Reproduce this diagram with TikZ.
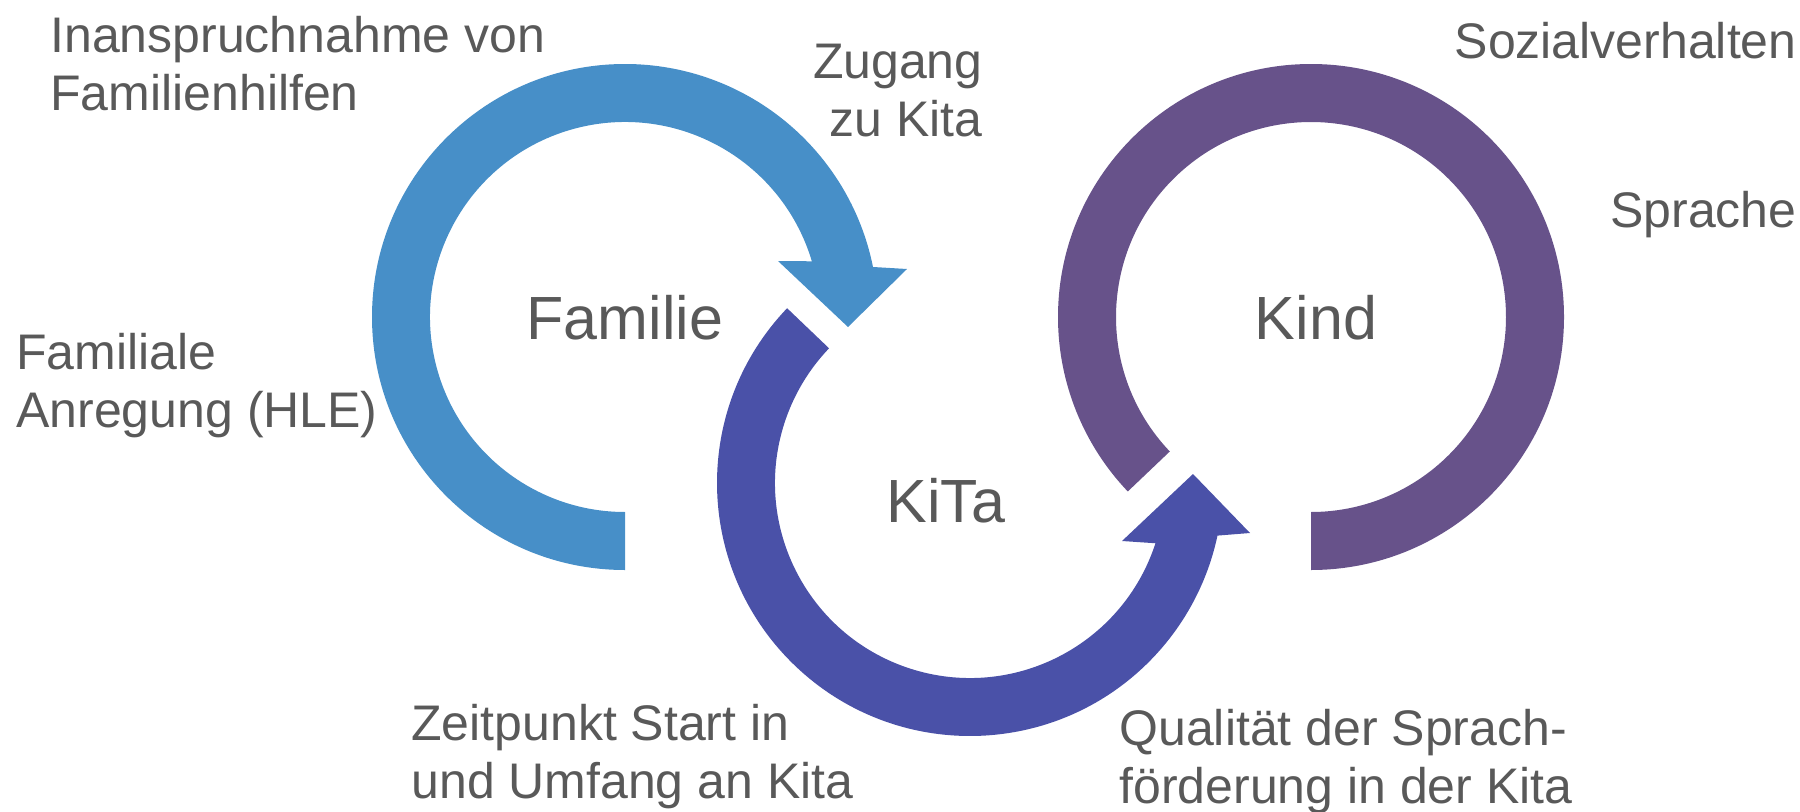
\documentclass[tikz,border=0pt]{standalone}
\usepackage{fontspec}
\setmainfont{Liberation Sans}
\usetikzlibrary{calc}
\definecolor{famblue}{RGB}{71,143,200}
\definecolor{kitablue}{RGB}{74,81,168}
\definecolor{kindpurple}{RGB}{103,82,138}
\definecolor{txtgray}{RGB}{89,89,89}
\begin{document}
\begin{tikzpicture}[x=0.5pt,y=0.5pt,
  lbl/.style={text=txtgray, font=\fontsize{25}{29}\selectfont, inner sep=0pt, align=left},
  big/.style={text=txtgray, font=\fontsize{30.5}{36}\selectfont, inner sep=0pt}]
\useasboundingbox (0,0) rectangle (1800,811);
\coordinate (cF) at (625,494);
\coordinate (cK) at (970,328);
\coordinate (cC) at (1311,494);
% Familie ring with arrow
\fill[famblue] ($(cF)+(270:253)$) arc[start angle=270,end angle=11.4,radius=253]
  -- (907,542) -- (848,484) -- (778,550) -- ($(cF)+(16.6:195)$)
  arc[start angle=16.6,end angle=270,radius=195] -- cycle;
% KiTa ring with arrow
\fill[kitablue] ($(cK)+(136.3:195)$) -- ($(cK)+(136.3:253)$)
  arc[start angle=136.3,end angle=348,radius=253]
  -- (1250,278) -- (1193,337) -- (1122,270) -- ($(cK)+(342:195)$)
  arc[start angle=342,end angle=136.3,radius=195] -- cycle;
% Kind ring
\fill[kindpurple] ($(cC)+(270:195)$) -- ($(cC)+(270:253)$)
  arc[start angle=-90,end angle=223.6,radius=253]
  -- ($(cC)+(223.6:195)$) arc[start angle=223.6,end angle=-90,radius=195] -- cycle;
% labels (multi-line nodes: base anchor = baseline of last line)
\node[lbl, anchor=base west] (inan) at (50,701) {Inanspruchnahme von\\Familienhilfen};
\node[lbl, align=right, anchor=base east] (zug) at (983,675) {Zugang\\zu Kita};
\node[lbl, anchor=base east] (soz) at (1797,753) {Sozialverhalten};
\node[lbl, anchor=base east] (spr) at (1797,584) {Sprache};
\node[lbl, anchor=base west] (fam2) at (16,384) {Familiale\\Anregung (HLE)};
\node[lbl, anchor=base west] (zeit) at (411,13) {Zeitpunkt Start in\\und Umfang an Kita};
\node[lbl, anchor=base west] (qual) at (1119,8) {Qualität der Sprach-\\förderung in der Kita};
\node[big, anchor=base] (famT) at (625,472) {Familie};
\node[big, anchor=base] (kindT) at (1316,472) {Kind};
\node[big, anchor=base] (kitaT) at (946,289) {KiTa};
\end{tikzpicture}
\end{document}
